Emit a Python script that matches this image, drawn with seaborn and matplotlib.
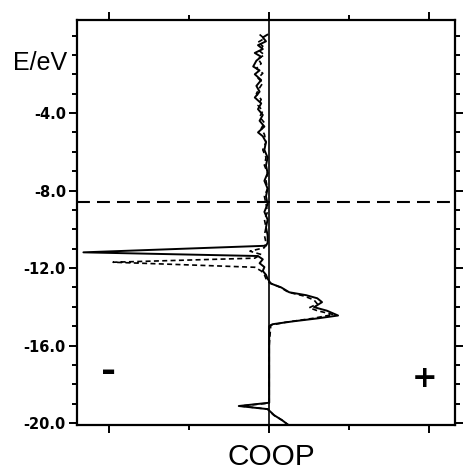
import matplotlib
matplotlib.use("Agg")
import matplotlib.pyplot as plt
import matplotlib.transforms as mtransforms
import seaborn as sns
import numpy as np

# ---- data ----
energy_solid = [0.05, -0.1, -0.3, -0.5, -0.7, -0.9, -1.1, -1.3, -1.6, -1.8,
                -2.0, -2.3, -2.6, -2.9, -3.2, -3.5, -3.8, -4.1, -4.4, -4.7,
                -5.0, -5.2, -5.5, -5.9, -6.3, -6.7, -7.1, -7.5, -7.9, -8.3,
                -8.7, -9.1, -9.5, -9.9, -10.3, -10.7, -10.85, -11.19, -11.38, -11.55,
                -11.75, -11.95, -12.15, -12.35, -12.55, -12.8, -13.0, -13.25, -13.40, -13.56,
                -13.76, -14.02, -14.20, -14.45, -14.60, -14.75, -14.90, -15.0, -16.0, -17.0,
                -18.0, -18.95, -19.12, -19.28, -19.43, -19.59, -19.85, -20.1]
coop_solid = [-0.01, -0.04, -0.02, -0.07, -0.04, -0.09, -0.05, -0.08, -0.10, -0.06,
              -0.09, -0.05, -0.08, -0.06, -0.09, -0.05, -0.07, -0.04, -0.06, -0.03,
              -0.07, -0.04, -0.02, -0.03, -0.01, -0.02, -0.01, -0.03, -0.01, -0.02,
              -0.01, -0.03, -0.01, -0.02, -0.01, -0.01, -0.02, -1.16, -0.07, -0.04,
              -0.06, -0.03, -0.04, -0.02, -0.01, 0.01, 0.075, 0.125, 0.23, 0.30,
              0.33, 0.28, 0.36, 0.43, 0.30, 0.15, 0.02, 0.0, 0.0, 0.0,
              0.0, 0.0, -0.19, -0.01, 0.01, 0.03, 0.08, 0.12]

energy_dashed = [0.05, -0.15, -0.35, -0.55, -0.8, -1.0, -1.2, -1.45, -1.7, -1.95,
                 -2.2, -2.45, -2.7, -3.0, -3.3, -3.6, -3.9, -4.2, -4.5, -4.8,
                 -5.1, -5.5, -5.9, -6.3, -6.7, -7.1, -7.5, -7.9, -8.3, -8.7,
                 -9.1, -9.5, -9.9, -10.3, -10.7, -10.95, -11.13, -11.3, -11.49, -11.70,
                 -11.96, -12.15, -12.35, -12.55, -12.75, -13.0, -13.25, -13.45, -13.65, -13.85,
                 -14.05, -14.2, -14.4, -14.6, -14.8, -14.95, -16.0, -18.0, -18.97, -19.12,
                 -19.28, -19.45, -19.6, -19.85, -20.1]
coop_dashed = [-0.06, -0.03, -0.07, -0.04, -0.06, -0.03, -0.07, -0.05, -0.08, -0.04,
               -0.07, -0.04, -0.06, -0.08, -0.05, -0.07, -0.04, -0.06, -0.03, -0.05,
               -0.03, -0.02, -0.04, -0.02, -0.03, -0.01, -0.02, -0.01, -0.03, -0.02,
               -0.01, -0.03, -0.02, -0.03, -0.02, -0.03, -0.12, -0.05, -0.09, -0.975,
               -0.09, -0.05, -0.03, -0.02, 0.0, 0.07, 0.12, 0.22, 0.28, 0.30,
               0.25, 0.30, 0.40, 0.27, 0.10, 0.01, 0.0, 0.0, 0.0, -0.18,
               -0.01, 0.01, 0.03, 0.08, 0.12]

fermi_level = -8.6
ytick_values = [-20, -16, -12, -8, -4]
ytick_labels = ["-20.0", "-16.0", "-12.0", "-8.0", "-4.0"]
yminor_values = list(range(-20, 1))
xtick_values = [-1, 0, 1]
xminor_values = [-0.5, 0.5]

# ---- figure ----
sns.set_style("white")
plt.rcParams["font.family"] = ["DejaVu Sans"]
plt.rcParams["text.color"] = "black"
plt.rcParams["xtick.color"] = "black"
plt.rcParams["ytick.color"] = "black"
plt.rcParams["axes.labelcolor"] = "black"

fig = plt.figure(figsize=(4.63, 4.70), dpi=100)
ax = fig.add_axes([77 / 463, 1 - 425 / 470, (455 - 77) / 463, (425 - 20) / 470])

sns.lineplot(x=coop_solid, y=energy_solid, sort=False, estimator=None,
             color="black", lw=1.4, ax=ax)
sns.lineplot(x=coop_dashed, y=energy_dashed, sort=False, estimator=None,
             color="black", lw=1.2, linestyle=(0, (3.0, 2.0)), ax=ax)

ax.axvline(0, color="black", lw=1.2)
ax.axhline(fermi_level, color="black", lw=1.5, linestyle=(0, (6.2, 3.4)))

ax.set_xlim(-1.2, 1.16)
ax.set_ylim(-20.1, 0.8)

ax.set_yticks(ytick_values)
ax.set_yticklabels(ytick_labels, fontsize=10.5, fontweight="bold", color="black")
ax.set_yticks(yminor_values, minor=True)
ax.set_xticks(xtick_values)
ax.set_xticklabels([])
ax.set_xticks(xminor_values, minor=True)

ax.tick_params(axis="both", which="both", direction="out", color="black",
               labelcolor="black", width=1.4)
ax.tick_params(axis="y", which="both", left=True, right=True, labelright=False, pad=2)
ax.tick_params(axis="x", which="both", bottom=True, top=True, labeltop=False)
ax.tick_params(which="major", length=6)
ax.tick_params(which="minor", length=3.5)

for sp in ax.spines.values():
    sp.set_visible(True)
    sp.set_color("black")
    sp.set_linewidth(1.6)

ax.set_xlabel("")
ax.set_ylabel("")

trans = mtransforms.blended_transform_factory(ax.transAxes, ax.transData)
ax.text(-0.027, -1.4, "E/eV", transform=trans, ha="right", va="center",
        fontsize=18, family="Liberation Sans", color="black")

ax.text(-1.0, -17.37, "-", ha="center", va="center", fontsize=26,
        fontweight="heavy", color="black")
ax.text(0.97, -17.68, "+", ha="center", va="center", fontsize=22,
        fontweight="heavy", color="black")

fig.text(271 / 463, 1 - 457 / 470, "COOP", ha="center", va="center",
         fontsize=21.5, family="Liberation Sans", color="black")

fig.savefig("out.png", dpi=100)
